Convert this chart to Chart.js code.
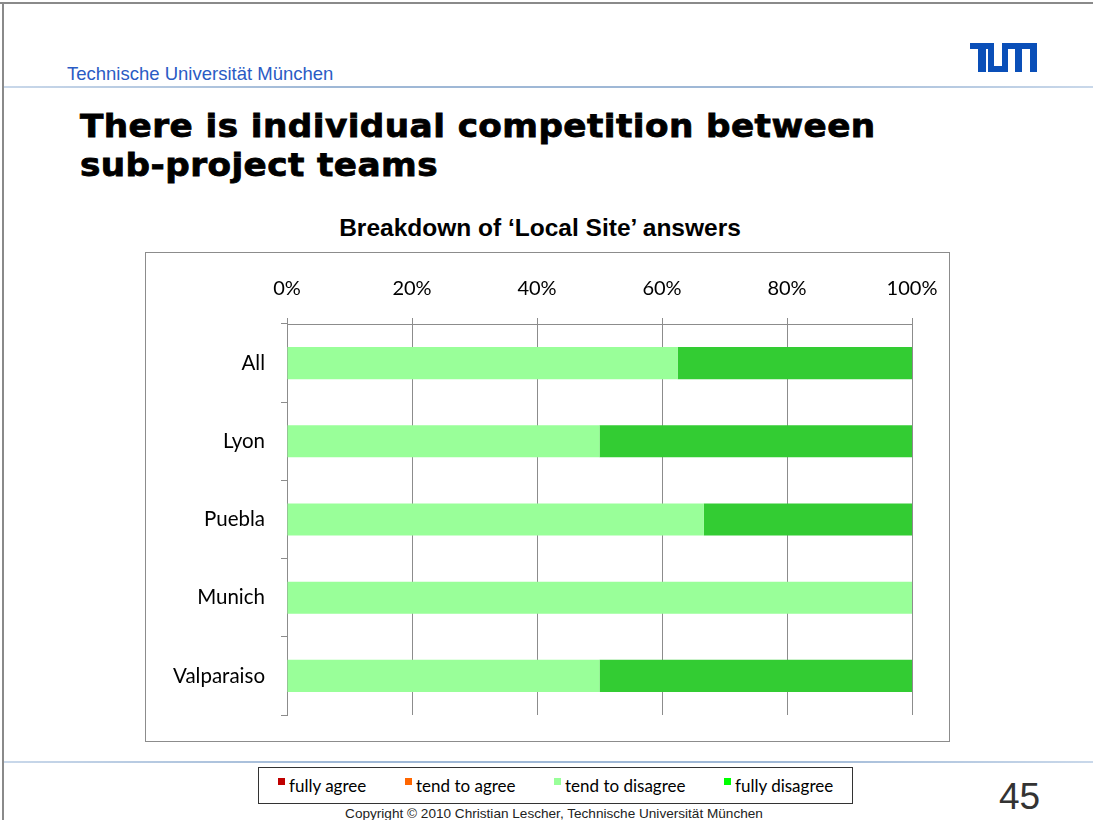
<!DOCTYPE html>
<html>
<head>
<meta charset="utf-8">
<script src="https://cdn.jsdelivr.net/npm/chart.js@4.4.1/dist/chart.umd.min.js"></script>
<style>
  html, body { margin:0; padding:0; background:#fff; }
  body { width:1093px; height:820px; position:relative; overflow:hidden; font-family:"Liberation Sans", Arial, sans-serif; }
  .abs { position:absolute; }
  #topline { left:0; top:2px; width:1093px; height:2px; background:#8a8a8a; }
  #leftline { left:2px; top:2px; width:2px; height:818px; background:#8a8a8a; }
  #uni { left:67px; top:63px; font-size:18.5px; color:#2a5bc4; white-space:nowrap; }
  #sep1 { left:4px; top:86px; width:1089px; height:2px; background:linear-gradient(to right,#c9d8ea,#9fb8d6 30%,#9fb8d6 70%,#c9d8ea); }
  #sep2 { left:4px; top:761px; width:1089px; height:2px; background:linear-gradient(to right,#c9d8ea,#9fb8d6 30%,#9fb8d6 70%,#c9d8ea); }
  #title { left:80px; top:107px; font-family:"DejaVu Sans", sans-serif; font-weight:bold; font-size:32px; line-height:39px; letter-spacing:0.4px; -webkit-text-stroke:0.8px #000; color:#000; white-space:nowrap; transform:scaleX(1.07); transform-origin:0 0; }
  #ctitle { left:0; width:1080px; top:214px; text-align:center; font-weight:bold; font-size:24.5px; color:#000; white-space:nowrap; }
  #box { left:145px; top:252px; width:803px; height:488px; border:1px solid #8c8c8c; }
  #legend { left:258px; top:767px; width:593px; height:35px; border:1px solid #333; font-family:Lato, "Open Sans", sans-serif; font-size:17px; color:#000; }
  .li { position:absolute; top:7px; white-space:nowrap; }
  .sw { position:absolute; left:-11px; top:3px; width:7px; height:7px; }
  #page { left:999px; top:776px; font-size:37px; color:#333; }
  #copy { left:0; width:1108px; top:806px; text-align:center; font-size:13.6px; color:#222; white-space:nowrap; }
</style>
</head>
<body>
<div id="topline" class="abs"></div>
<div id="leftline" class="abs"></div>
<div id="uni" class="abs">Technische Universität München</div>
<svg class="abs" style="left:970px;top:43px" width="67" height="29" viewBox="0 0 67 29">
  <g fill="#0a4fb8">
    <rect x="0" y="0" width="24" height="6"/>
    <rect x="8" y="0" width="8" height="29"/>
    <rect x="18" y="0" width="6" height="29"/>
    <rect x="18" y="23" width="20" height="6"/>
    <rect x="32" y="0" width="6" height="29"/>
    <rect x="32" y="0" width="35" height="6"/>
    <rect x="45" y="0" width="7" height="29"/>
    <rect x="60" y="0" width="7" height="29"/>
  </g>
</svg>
<div id="sep1" class="abs"></div>
<div id="title" class="abs">There is individual competition between<br>sub-project teams</div>
<div id="ctitle" class="abs">Breakdown of ‘Local Site’ answers</div>
<div id="box" class="abs"><canvas id="c" width="803" height="488"></canvas></div>
<div id="sep2" class="abs"></div>
<div id="legend" class="abs"></div>
<div id="page" class="abs">45</div>
<div id="copy" class="abs">Copyright © 2010 Christian Lescher, Technische Universität München</div>
<script>
const categories = ['All', 'Lyon', 'Puebla', 'Munich', 'Valparaiso'];
const seriesNames = ['fully agree', 'tend to agree', 'tend to disagree', 'fully disagree'];
const fullyAgree = [0, 0, 0, 0, 0];
const tendToAgree = [0, 0, 0, 0, 0];
const tendToDisagree = [62.5, 50, 66.7, 100, 50];
const fullyDisagree = [37.5, 50, 33.3, 0, 50];
const tickValues = [0, 20, 40, 60, 80, 100];

const barColors = ['#c00000', '#ff6600', '#99ff99', '#33cc33'];
const legendColors = ['#c00000', '#ff6600', '#99ff99', '#00ff00'];
const seriesData = [fullyAgree, tendToAgree, tendToDisagree, fullyDisagree];

// HTML legend
const legend = document.getElementById('legend');
const legendX = [30, 157, 306, 476];
seriesNames.forEach((n, i) => {
  const d = document.createElement('div');
  d.className = 'li';
  d.style.left = legendX[i] + 'px';
  d.innerHTML = '<span class="sw" style="background:' + legendColors[i] + '"></span>' + n;
  legend.appendChild(d);
});

const grey = '#8c8c8c';
new Chart(document.getElementById('c'), {
  type: 'bar',
  data: {
    labels: categories,
    datasets: seriesNames.map((n, i) => ({
      label: n,
      data: seriesData[i],
      backgroundColor: barColors[i],
      borderWidth: 0,
      categoryPercentage: 1,
      barPercentage: 0.41
    }))
  },
  options: {
    indexAxis: 'y',
    responsive: false,
    animation: false,
    layout: { padding: { left: 0, right: 37, top: 0, bottom: 26 } },
    plugins: { legend: { display: false }, tooltip: { enabled: false }, title: { display: false } },
    scales: {
      x: {
        position: 'top',
        stacked: true,
        min: 0, max: 100,
        afterBuildTicks: s => { s.ticks = tickValues.map(v => ({ value: v })); },
        afterFit: s => { s.height = 71; },
        ticks: { callback: v => v + '%', color: '#000', font: { family: 'Lato', size: 20, lineHeight: 1.8 }, padding: 11, maxRotation: 0 },
        grid: { color: grey, lineWidth: 1, tickLength: 6, drawTicks: true },
        border: { color: grey, width: 1 }
      },
      y: {
        stacked: true,
        afterFit: s => { s.width = 141; },
        ticks: { color: '#000', font: { family: 'Lato', size: 20.5, lineHeight: 0.9 }, padding: 16 },
        grid: { offset: true, drawOnChartArea: false, color: grey, tickLength: 6 },
        border: { color: grey, width: 1 }
      }
    }
  }
});
</script>
</body>
</html>
